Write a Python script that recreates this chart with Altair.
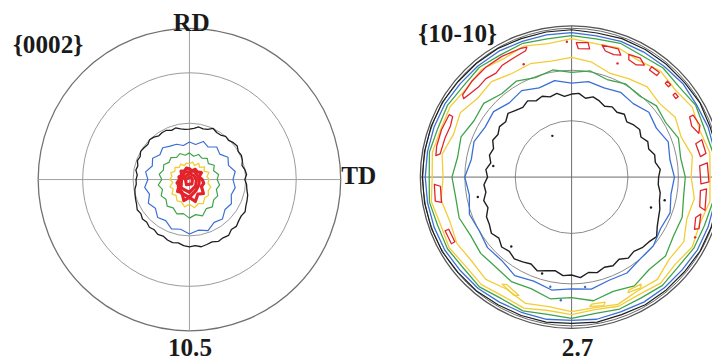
import altair as alt
import pandas as pd

# ---------------- data ----------------
# pole-figure centres (plot units = px) and frame radius
CENTERS = {"L": (0.0, 0.0), "R": (386.5, 2.5)}
FRAME_R = 153
RINGS = [57, 108]          # 30 deg / 60 deg tilt rings

COLORS = {"black": "#1e1e1e", "blue": "#3b6fd4", "green": "#3ea348",
          "yellow": "#f2cd35", "red": "#e3232b"}

# contour radii, evenly spaced in azimuth starting at TD (east), counter-clockwise
L_BLACK = [56, 58, 57, 55, 57, 58, 57, 59, 58, 56,
           57, 55, 55, 57, 54, 53, 54, 52, 51, 51,
           52, 54, 53, 55, 55, 54, 56, 57, 55, 56,
           57, 55, 56, 54, 55, 53, 54, 54, 56, 57,
           58, 59, 61, 60, 62, 61, 63, 62, 64, 63,
           65, 66, 65, 67, 68, 67, 69, 68, 67, 69,
           68, 69, 66, 67, 65, 64, 65, 63, 62, 61,
           59, 58]
L_BLUE = [44, 47, 42, 45, 40, 43, 38, 41, 36, 38, 35, 38, 39, 42, 39, 43, 40, 45,
          42, 46, 43, 48, 45, 50, 48, 53, 51, 55, 52, 55, 50, 52, 47, 49, 45, 47]
L_GREEN = [28, 30, 26, 29, 25, 28, 25, 27, 24, 27, 25, 28, 26, 29, 27, 30, 28, 31,
           28, 32, 29, 33, 31, 35, 33, 37, 35, 39, 36, 39, 34, 36, 32, 33, 29, 31]
L_YELLOW = [20, 18, 21, 17, 20, 16, 19, 15, 18, 16, 17, 15, 18, 16, 19, 17, 20, 18,
            20, 17, 21, 19, 23, 21, 25, 24, 28, 25, 29, 26, 28, 24, 25, 22, 23, 19]
L_RED_1 = [13, 10, 14, 11, 12, 9, 11, 12, 10, 12, 9, 11, 10, 13, 12, 17, 15, 22, 18, 23, 17, 20, 14, 15]
L_RED_2 = [10, 9, 10, 8, 9, 8, 9, 13, 16, 18, 13, 11]
L_RED_3 = [7, 6, 6, 5, 8, 12, 13, 9]
L_RED_4 = [3, 3, 2, 4, 6, 5]

R_BLACK_IN = [88, 90, 86, 87, 83, 85, 81, 84, 82, 79,
              83, 80, 82, 79, 82, 84, 81, 85, 84, 82,
              86, 84, 87, 85, 89, 86, 88, 91, 87, 89,
              86, 88, 84, 86, 83, 87, 85, 89, 88, 92,
              90, 95, 96, 99, 96, 100, 98, 101, 99, 97,
              101, 98, 96, 100, 99, 102, 98, 100, 97, 99,
              96, 100, 98, 101, 102, 105, 100, 97, 95, 92,
              91, 88]
R_BLUE_IN = [104, 101, 104, 99, 102, 97, 99, 96, 98, 95, 99, 96, 101, 98, 103, 101, 105, 103,
             108, 105, 110, 108, 111, 110, 115, 112, 116, 113, 115, 111, 112, 108, 108, 104, 106, 102]
R_GREEN_IN = [115, 112, 115, 110, 112, 107, 109, 105, 109, 106, 110, 107, 112, 110, 116, 114, 119, 117,
              121, 119, 121, 118, 120, 119, 122, 120, 125, 122, 127, 123, 127, 122, 124, 119, 119, 115]
R_YELLOW_IN = [121, 124, 118, 121, 116, 119, 115, 112, 118, 121, 119, 122, 121, 126, 124, 130, 127, 133,
               130, 134, 131, 134, 132, 135, 131, 136, 133, 136, 134, 137, 133, 135, 129, 131, 124, 126]
R_YELLOW_OUT = [140, 142, 138, 141, 137, 140, 136, 139, 137, 140, 137, 141, 138, 142, 139, 142, 141, 143,
                141, 144, 141, 143, 140, 142, 139, 141, 137, 139, 136, 139, 137, 140, 137, 141, 138, 142]
R_GREEN_OUT = [144, 145, 143, 145, 142, 144, 142, 144, 142, 143, 142, 144, 143, 145, 143, 145, 144, 146,
               144, 146, 144, 145, 143, 145, 142, 144, 141, 143, 140, 142, 141, 143, 141, 143, 143, 145]
R_BLUE_OUT = [147, 147, 147, 146, 147, 146, 146, 146, 145, 146, 146, 146, 147, 147, 147, 148, 148, 148,
              148, 148, 148, 148, 147, 147, 146, 146, 146, 145, 146, 145, 146, 146, 146, 147, 147, 147]
R_BLACK_OUT = [150, 150, 149, 150, 149, 149, 149, 149, 148, 149, 149, 149, 150, 150, 150, 151, 151, 151,
               151, 151, 151, 151, 150, 150, 149, 149, 149, 148, 149, 148, 149, 149, 149, 150, 150, 150]

# small closed loops in the {10-10} figure: (azimuth deg, radius)
R_RED_BLOBS = [
    [(143, 138), (136, 140), (128, 141), (120, 141), (112, 140), (109, 139), (110, 136), (116, 134),
     (122, 133), (126, 130), (131, 132), (136, 131), (141, 133), (144, 135)],
    [(153, 139), (160, 140), (167, 140), (171, 139), (170, 135), (163, 134), (157, 133), (153, 135)],
    [(183, 139), (190, 140), (191, 134), (184, 133)],
    [(203, 139), (209, 139), (209, 135), (203, 135)],
    [(88, 136), (83, 137), (82, 131), (87, 130)],
    [(77, 137), (70, 138), (68, 133), (71, 131), (75, 132)],
    [(65, 137), (60, 139), (57, 135), (60, 131), (64, 132)],
    [(54, 138), (50, 138), (50, 134), (54, 134)],
    [(45, 137), (43, 137), (43, 134), (45, 134)],
    [(39, 135), (37, 135), (37, 132), (39, 132)],
    [(27, 138), (22, 140), (19, 136), (23, 132), (27, 134)],
    [(16, 137), (10, 138), (9, 132), (15, 130)],
    [(6, 138), (-2, 139), (-3, 131), (5, 130)],
    [(355, 137), (346, 139), (347, 133), (354, 131)],
    [(344, 136), (338, 139), (337, 135), (342, 132)],
]
R_YELLOW_BLOBS = [
    [(237, 129), (244, 133), (246, 131), (239, 127)],
    [(278, 132), (284, 134), (285, 131), (279, 130)],
    [(296, 130), (302, 132), (303, 129), (297, 128)],
]
R_DOTS = [("black", 115, 46), ("black", 172, 80), ("black", 192, 97), ("black", 229, 93),
          ("black", 253, 102), ("black", 339, 86), ("black", 346, 97),
          ("red", 113, 124), ("red", 92, 137), ("red", 68, 124), ("red", 334, 139),
          ("blue", 277, 112), ("blue", 259, 113), ("blue", 265, 125)]

LABELS = [  # text, panel, dx, dy (from centre), align
    ("{0002}", "L", -178.5, 127.5, "left"),
    ("RD", "L", 2.0, 150.5, "center"),
    ("TD", "L", 153.5, -4.5, "left"),
    ("10.5", "L", 0.5, -178.5, "center"),
    ("{10-10}", "R", -155.0, 137.0, "left"),
    ("2.7", "R", 6.0, -181.0, "center"),
]

# ---------------- tables ----------------
CONTOURS = [
    ("L", "black", L_BLACK, 1.3), ("L", "blue", L_BLUE, 1.2), ("L", "green", L_GREEN, 1.2),
    ("L", "yellow", L_YELLOW, 1.3), ("L", "red", L_RED_1, 3.2), ("L", "red", L_RED_2, 3.2),
    ("L", "red", L_RED_3, 3.2), ("L", "red", L_RED_4, 3.2),
    ("R", "black", R_BLACK_IN, 1.4), ("R", "blue", R_BLUE_IN, 1.3), ("R", "green", R_GREEN_IN, 1.3),
    ("R", "yellow", R_YELLOW_IN, 1.3), ("R", "yellow", R_YELLOW_OUT, 1.3),
    ("R", "green", R_GREEN_OUT, 1.3), ("R", "blue", R_BLUE_OUT, 1.3), ("R", "black", R_BLACK_OUT, 1.2),
]

rows = []
pid = 0
for panel, col, radii, w in CONTOURS:
    cx, cy = CENTERS[panel]
    n = len(radii)
    for i in range(n + 1):
        rows.append(dict(path=pid, i=i, a=360.0 * (i % n) / n, r=radii[i % n],
                         cx=cx, cy=cy, col=COLORS[col], w=w))
    pid += 1
for col, blobs in (("red", R_RED_BLOBS), ("yellow", R_YELLOW_BLOBS)):
    cx, cy = CENTERS["R"]
    for blob in blobs:
        pts = blob + [blob[0]]
        for i, (a, r) in enumerate(pts):
            rows.append(dict(path=pid, i=i, a=a, r=r, cx=cx, cy=cy, col=COLORS[col], w=1.3))
        pid += 1
lines_df = pd.DataFrame(rows)

dots_df = pd.DataFrame([dict(a=a, r=r, cx=CENTERS["R"][0], cy=CENTERS["R"][1], col=COLORS[c])
                        for c, a, r in R_DOTS])

ring_rows = []
for panel in ("L", "R"):
    cx, cy = CENTERS[panel]
    for rr in RINGS:
        ring_rows.append(dict(cx=cx, cy=cy, r=rr, col="#9a9a9a" if panel == "L" else "#8a8a8a", w=1.0))
    ring_rows.append(dict(cx=cx, cy=cy, r=FRAME_R, col="#707070" if panel == "L" else "#555555", w=1.3))
ring_rows.append(dict(cx=CENTERS["R"][0], cy=CENTERS["R"][1], r=FRAME_R - 2.5, col="#666666", w=1.0))
rings_df = pd.DataFrame(ring_rows)

cross_df = pd.DataFrame([dict(cx=CENTERS[p][0], cy=CENTERS[p][1], R=FRAME_R,
                              col="#a0a0a0" if p == "L" else "#6a6a6a") for p in ("L", "R")])

text_df = pd.DataFrame([dict(t=t, x=CENTERS[p][0] + dx, y=CENTERS[p][1] + dy, al=al)
                        for t, p, dx, dy, al in LABELS])

# ---------------- chart ----------------
xs = alt.Scale(domain=[-183.5, 528.5], nice=False, zero=False)
ys = alt.Scale(domain=[-182.5, 171.5], nice=False, zero=False)


def X(f):
    return alt.X(f"{f}:Q", scale=xs, axis=None)


def Y(f):
    return alt.Y(f"{f}:Q", scale=ys, axis=None)


# rings drawn as hollow circle symbols whose diameter equals 2r (1 plot unit = 1 px)
rings = alt.Chart(rings_df).transform_calculate(
    s="4 * datum.r * datum.r"
).mark_point(shape="circle", filled=False, opacity=1, clip=True).encode(
    x=X("cx"), y=Y("cy"),
    size=alt.Size("s:Q", scale=None),
    color=alt.Color("col:N", scale=None),
    strokeWidth=alt.StrokeWidth("w:Q", scale=None),
)

cross_h = alt.Chart(cross_df).transform_calculate(
    x1="datum.cx - datum.R", x2="datum.cx + datum.R"
).mark_rule(strokeWidth=1, clip=True).encode(
    x=X("x1"), x2="x2:Q", y=Y("cy"), color=alt.Color("col:N", scale=None))
cross_v = alt.Chart(cross_df).transform_calculate(
    y1="datum.cy - datum.R", y2="datum.cy + datum.R"
).mark_rule(strokeWidth=1, clip=True).encode(
    x=X("cx"), y=Y("y1"), y2="y2:Q", color=alt.Color("col:N", scale=None))

polar = dict(px="datum.cx + datum.r * cos(datum.a * PI / 180)",
             py="datum.cy + datum.r * sin(datum.a * PI / 180)")

lines = alt.Chart(lines_df).transform_calculate(**polar).mark_line(
    clip=True, strokeJoin="round", strokeCap="round").encode(
    x=X("px"), y=Y("py"), detail="path:N", order="i:Q",
    color=alt.Color("col:N", scale=None),
    strokeWidth=alt.StrokeWidth("w:Q", scale=None),
)

dots = alt.Chart(dots_df).transform_calculate(**polar).mark_circle(size=6, opacity=1, clip=True).encode(
    x=X("px"), y=Y("py"), color=alt.Color("col:N", scale=None))

text_layers = []
for al in ("left", "center"):
    text_layers.append(
        alt.Chart(text_df).transform_filter(f"datum.al == '{al}'").mark_text(
            align=al, baseline="alphabetic", font="Liberation Serif", fontWeight="bold",
            fontSize=25.5, color="#1a1a1a").encode(x=X("x"), y=Y("y"), text="t:N"))

chart = alt.layer(rings, cross_h, cross_v, lines, dots, *text_layers).properties(
    width=712, height=354, padding=0,
    autosize=alt.AutoSizeParams(type="none"),
    background="white",
).configure_view(strokeWidth=0)

chart.save("out.html", embed_options={"renderer": "svg", "actions": False})
